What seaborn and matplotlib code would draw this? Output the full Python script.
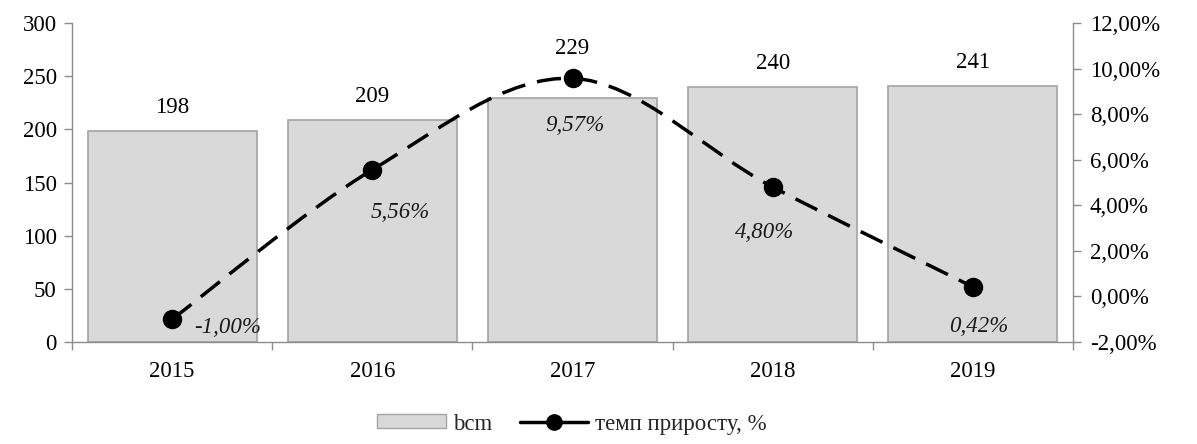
import numpy as np
import pandas as pd
import matplotlib
matplotlib.use("Agg")
import matplotlib.pyplot as plt
from matplotlib.path import Path
from matplotlib.patches import PathPatch, Patch
from matplotlib.lines import Line2D
from matplotlib.ticker import FixedLocator, FuncFormatter
import seaborn as sns

years = ["2015", "2016", "2017", "2018", "2019"]
bcm = [198, 209, 229, 240, 241]
growth = [-1.00, 5.56, 9.57, 4.80, 0.42]
bar_label = "bcm"
line_label = "темп приросту, %"

sns.set_theme(style="white")
plt.rcParams["font.family"] = ["Liberation Serif", "DejaVu Serif"]

FS = 16.5
GRAY = "#8c8c8c"
fig = plt.figure(figsize=(11.97, 4.44), dpi=100)
ax = fig.add_axes([0.0602, 0.2297, 0.8362, 0.7185])

df = pd.DataFrame({"year": years, "bcm": bcm, "growth": growth})
sns.barplot(data=df, x="year", y="bcm", ax=ax, color="#d9d9d9",
            edgecolor="#a3a3a3", linewidth=1.2, width=0.845, saturation=1)
ax.set_xlim(-0.5, len(years) - 0.5)
ax.set_ylim(0, 300)
ax.set_yticks(np.arange(0, 301, 50))
ax.set_xlabel("")
ax.set_ylabel("")
for sp in ["top", "right"]:
    ax.spines[sp].set_visible(False)
for sp in ["left", "bottom"]:
    ax.spines[sp].set_color(GRAY)
    ax.spines[sp].set_linewidth(1.0)
ax.tick_params(axis="y", which="major", left=True, length=6, width=1,
               color=GRAY, pad=5, labelsize=FS, labelcolor="black")
ax.tick_params(axis="x", which="major", length=0, pad=14, labelsize=FS,
               labelcolor="black")
ax.xaxis.set_minor_locator(FixedLocator(np.arange(-0.5, len(years), 1.0)))
ax.tick_params(axis="x", which="minor", bottom=True, length=6, width=1,
               color=GRAY)

bar_offsets_px = [13, 13, 39, 13, 13]
for i, v in enumerate(bcm):
    ax.annotate(str(v), (i, v), xytext=(0, bar_offsets_px[i] * 0.72),
                textcoords="offset points", ha="center", va="bottom",
                fontsize=FS, color="black")

ax2 = ax.twinx()
ax2.set_ylim(-2, 12)
ax2.set_yticks(np.arange(-2, 12.1, 2))
ax2.yaxis.set_major_formatter(
    FuncFormatter(lambda v, p: f"{v:.2f}%".replace(".", ",")))
for sp in ["top", "left", "bottom"]:
    ax2.spines[sp].set_visible(False)
ax2.spines["right"].set_color(GRAY)
ax2.spines["right"].set_linewidth(1.0)
ax2.tick_params(axis="y", right=True, length=6, width=1, color=GRAY, pad=6,
                labelsize=FS, labelcolor="black")
ax2.grid(False)
ax.grid(False)

# smooth dashed curve (Catmull-Rom -> cubic Bezier) through the data points
xs = np.arange(len(growth), dtype=float)
ys = np.array(growth, dtype=float)
P = np.column_stack([xs, ys])
Pext = np.vstack([P[0], P, P[-1]])
verts = [tuple(P[0])]
codes = [Path.MOVETO]
for i in range(len(P) - 1):
    p0, p1, p2, p3 = Pext[i], Pext[i + 1], Pext[i + 2], Pext[i + 3]
    c1 = p1 + (p2 - p0) / 6.0
    c2 = p2 - (p3 - p1) / 6.0
    verts += [tuple(c1), tuple(c2), tuple(p2)]
    codes += [Path.CURVE4] * 3
curve = PathPatch(Path(verts, codes), facecolor="none", edgecolor="black",
                  linewidth=2.5, linestyle=(0, (7, 3.5)), capstyle="butt",
                  zorder=3)
ax2.add_patch(curve)

sns.scatterplot(x=xs, y=ys, ax=ax2, color="black", s=14 ** 2,
                edgecolor="black", linewidth=0, zorder=4, legend=False)

offsets_px = [(55, -8), (28, -43), (2, -47), (-8, -45), (6, -40)]
for i, v in enumerate(growth):
    dx, dy = offsets_px[i]
    ax2.annotate(f"{v:.2f}%".replace(".", ","), (i, v),
                 xytext=(dx * 0.72, dy * 0.72), textcoords="offset points",
                 ha="center", va="center", fontsize=FS, style="italic",
                 color="#1a1a1a", zorder=5)

handles = [
    Patch(facecolor="#d9d9d9", edgecolor="#a3a3a3", linewidth=1.0),
    Line2D([0], [0], color="black", linewidth=2.5, marker="o",
           markersize=11),
]
fig.legend(handles, [bar_label, line_label], loc="center",
           bbox_to_anchor=(572 / 1197, 1 - 424 / 444), ncol=2, frameon=False,
           fontsize=FS, handlelength=3.0, handleheight=0.55,
           columnspacing=1.2, handletextpad=0.3)

fig.savefig("out.png", dpi=100)
